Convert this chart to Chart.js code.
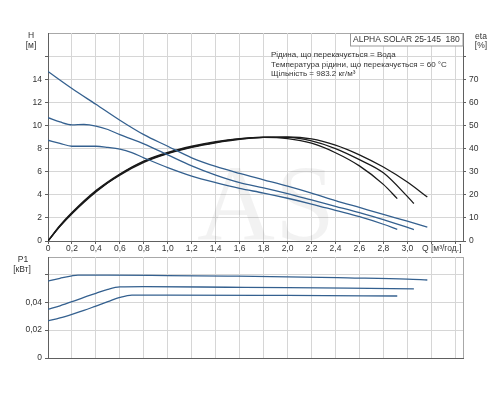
<!DOCTYPE html>
<html><head><meta charset="utf-8">
<script src="https://cdn.jsdelivr.net/npm/chart.js@4"></script>
<style>
html,body{margin:0;padding:0;background:#fff;}
#wrap{position:relative;width:500px;height:400px;background:#fff;}
canvas{position:absolute;left:0;top:0;}
</style></head><body>
<div id="wrap"><canvas id="c1" width="500" height="400"></canvas><canvas id="c2" width="500" height="400"></canvas></div>
<script>
// ---- tick values and labels ----
const xTicks = [0,0.2,0.4,0.6,0.8,1.0,1.2,1.4,1.6,1.8,2.0,2.2,2.4,2.6,2.8,3.0,3.2,3.4];
const xTickLabels = ['0','0,2','0,4','0,6','0,8','1,0','1,2','1,4','1,6','1,8','2,0','2,2','2,4','2,6','2,8','3,0','',''];
const hTicks = [0,2,4,6,8,10,12,14,16];
const hTickLabels = ['0','2','4','6','8','10','12','14',''];
const etaTicks = [0,10,20,30,40,50,60,70,80];
const etaTickLabels = ['0','10','20','30','40','50','60','70',''];
const pTicks = [0,0.02,0.04,0.06];
const pTickLabels = ['0','0,02','0,04',''];

// ---- H curves [м] ----
const qH1 = [0,0.2,0.4,0.6,0.8,1.0,1.2,1.4,1.6,1.8,2.0,2.2,2.4,2.6,2.8,3.0,3.167];
const h1  = [14.67,13.2,11.83,10.45,9.2,8.2,7.2,6.45,5.85,5.3,4.75,4.15,3.5,2.9,2.3,1.72,1.21];
const qH2 = [0,0.1,0.2,0.3,0.4,0.5,0.6,0.8,1.0,1.2,1.4,1.6,1.8,2.0,2.2,2.4,2.6,2.8,3.055];
const h2  = [10.67,10.3,10.05,10.08,9.95,9.65,9.2,8.4,7.45,6.5,5.7,5.05,4.6,4.1,3.55,3.0,2.45,1.85,0.99];
const qH3 = [0,0.1,0.2,0.4,0.5,0.6,0.7,0.8,1.0,1.2,1.4,1.6,1.8,2.0,2.2,2.4,2.6,2.8,2.916];
const h3  = [8.72,8.45,8.2,8.2,8.1,7.95,7.65,7.2,6.35,5.62,5.05,4.55,4.15,3.7,3.2,2.65,2.1,1.45,1.01];

// ---- eta curves [%] ----
const qE1 = [0,0.1,0.2,0.4,0.6,0.8,1.0,1.2,1.4,1.6,1.8,2.0,2.2,2.4,2.6,2.8,3.0,3.167];
const eta1 = [0,6.5,12,21.5,28.5,34,37.8,40.5,42.5,44,44.8,45,44.2,41.5,37.3,32,25.5,19];
const qE2 = [0,0.1,0.2,0.4,0.6,0.8,1.0,1.2,1.4,1.6,1.8,2.0,2.2,2.4,2.6,2.8,3.0,3.055];
const eta2 = [0,6.3,11.8,21.2,28.8,34.4,38,40.7,42.7,44.2,44.9,44.8,43.3,40,35.2,29.5,19.3,16.2];
const qE3 = [0,0.1,0.2,0.4,0.6,0.8,1.0,1.2,1.4,1.6,1.8,2.0,2.2,2.4,2.6,2.8,2.916];
const eta3 = [0,6.7,12.3,21.8,29,34.6,38.3,41,43,44.3,44.8,44.3,42.3,38.2,32.5,24.5,18.35];

// ---- P1 curves [кВт] ----
const qP1 = [0,0.1,0.2,0.25,0.5,1.0,1.5,2.0,2.5,3.0,3.167];
const p1  = [0.0552,0.0572,0.059,0.0595,0.0595,0.0592,0.0588,0.0583,0.0575,0.0566,0.056];
const qP2 = [0,0.1,0.2,0.3,0.4,0.5,0.6,0.8,1.5,2.0,2.5,3.055];
const p2  = [0.035,0.0375,0.0404,0.0435,0.0464,0.0493,0.051,0.0512,0.0508,0.0505,0.0501,0.0496];
const qP3 = [0,0.1,0.2,0.3,0.4,0.5,0.6,0.7,1.0,2.0,2.916];
const p3  = [0.0266,0.0288,0.0314,0.0342,0.0373,0.0404,0.0435,0.0452,0.0452,0.0449,0.0445];

const FONT = '"Liberation Sans", Arial, sans-serif';
const BLUE = '#34608f';
const BLACK = '#1a1a1a';
const GRID = '#d6d6d6';
const AXIS = '#606060';

const pts = (xs, ys) => xs.map((x, i) => ({x: x, y: ys[i]}));
const ds = (xs, ys, color, axis) => ({
  data: pts(xs, ys), borderColor: color, borderWidth: 1.3, pointRadius: 0,
  fill: false, cubicInterpolationMode: 'monotone', yAxisID: axis
});
const setTicks = vals => scale => { scale.ticks = vals.map(v => ({value: v})); };
const fixW = w => scale => { scale.width = w; };
const fixH = h => scale => { scale.height = h; };
const tickFont = {family: FONT, size: 8.5};

const outline = {
  id: 'outline',
  beforeDraw(chart) {
    const a = chart.chartArea, c = chart.ctx;
    c.save(); c.strokeStyle = '#a8a8a8'; c.lineWidth = 1;
    c.strokeRect(Math.round(a.left) + 0.5, Math.round(a.top) + 0.5, Math.round(a.right - a.left), Math.round(a.bottom - a.top));
    c.restore();
  }
};

const upperText = {
  id: 'upperText',
  beforeDatasetsDraw(chart) {
    const c = chart.ctx;
    c.save();
    c.font = '108px "Liberation Serif", serif';
    c.fillStyle = 'rgba(0,0,0,0.05)';
    c.textAlign = 'center'; c.textBaseline = 'alphabetic';
    c.fillText('AS', 266, 240);
    c.restore();
  },
  afterDraw(chart) {
    const c = chart.ctx, a = chart.chartArea;
    c.save();
    c.fillStyle = '#333';
    c.font = '8.5px ' + FONT;
    c.textAlign = 'center'; c.textBaseline = 'middle';
    c.fillText('H', 31, 36);
    c.fillText('[м]', 31, 46);
    c.fillText('eta', 481, 37);
    c.fillText('[%]', 481, 46);
    c.textAlign = 'left';
    c.fillText('Q [м³/год.]', 422, 248.5);
    // title box
    c.fillStyle = '#fff';
    c.fillRect(350.5, a.top + 0.5, a.right - 350.5, 12.5);
    c.strokeStyle = '#999'; c.lineWidth = 1;
    c.strokeRect(350.5, a.top + 0.5, Math.round(a.right) - 350.5, 12.5);
    c.fillStyle = '#333';
    c.font = '8.5px ' + FONT;
    c.fillText('ALPHA SOLAR 25-145  180', 353, 39.5);
    c.font = '8px ' + FONT;
    c.fillText('Рідина, що перекачується = Вода', 271, 55);
    c.fillText('Температура рідини, що перекачується = 60 °C', 271, 64.5);
    c.fillText('Щільність = 983.2 кг/м³', 271, 73.5);
    c.restore();
  }
};

const lowerText = {
  id: 'lowerText',
  afterDraw(chart) {
    const c = chart.ctx;
    c.save();
    c.fillStyle = '#333';
    c.font = '8.5px ' + FONT;
    c.textAlign = 'center'; c.textBaseline = 'middle';
    c.fillText('P1', 23, 260);
    c.fillText('[кВт]', 22, 270);
    c.restore();
  }
};

new Chart(document.getElementById('c1'), {
  type: 'line',
  data: { datasets: [
    ds(qH1, h1, BLUE, 'yH'), ds(qH2, h2, BLUE, 'yH'), ds(qH3, h3, BLUE, 'yH'),
    ds(qE1, eta1, BLACK, 'yEta'), ds(qE2, eta2, BLACK, 'yEta'), ds(qE3, eta3, BLACK, 'yEta')
  ]},
  options: {
    responsive: false, animation: false, devicePixelRatio: 1,
    layout: { padding: { top: 33, bottom: 143, left: 0, right: 0 } },
    plugins: { legend: {display: false}, tooltip: {enabled: false} },
    scales: {
      x: { type: 'linear', min: 0, max: 3.465, afterBuildTicks: setTicks(xTicks), afterFit: fixH(16),
           grid: { color: GRID, tickColor: AXIS, tickLength: 3 },
           border: { color: AXIS },
           ticks: { font: tickFont, color: '#333', padding: 0, maxRotation: 0, autoSkip: false,
                    callback: (v, i) => xTickLabels[i] } },
      yH: { type: 'linear', position: 'left', min: 0, max: 18, afterBuildTicks: setTicks(hTicks), afterFit: fixW(48),
            grid: { color: GRID, tickColor: AXIS, tickLength: 3 },
            border: { color: AXIS },
            ticks: { font: tickFont, color: '#333', padding: 3, autoSkip: false,
                     callback: (v, i) => hTickLabels[i] } },
      yEta: { type: 'linear', position: 'right', min: 0, max: 90, afterBuildTicks: setTicks(etaTicks), afterFit: fixW(37),
              grid: { drawOnChartArea: false, tickColor: AXIS, tickLength: 3 },
              border: { color: AXIS },
              ticks: { font: tickFont, color: '#333', padding: 3, autoSkip: false,
                       callback: (v, i) => etaTickLabels[i] } }
    }
  },
  plugins: [outline, upperText]
});

new Chart(document.getElementById('c2'), {
  type: 'line',
  data: { datasets: [
    ds(qP1, p1, BLUE, 'yP'), ds(qP2, p2, BLUE, 'yP'), ds(qP3, p3, BLUE, 'yP')
  ]},
  options: {
    responsive: false, animation: false, devicePixelRatio: 1,
    layout: { padding: { top: 257, bottom: 42, left: 0, right: 37 } },
    plugins: { legend: {display: false}, tooltip: {enabled: false} },
    scales: {
      x: { type: 'linear', min: 0, max: 3.465, afterBuildTicks: setTicks(xTicks), afterFit: fixH(0),
           grid: { color: GRID, drawTicks: false },
           border: { color: AXIS },
           ticks: { display: false } },
      yP: { type: 'linear', position: 'left', min: 0, max: 0.0725, afterBuildTicks: setTicks(pTicks), afterFit: fixW(48),
            grid: { color: GRID, tickColor: AXIS, tickLength: 3 },
            border: { color: AXIS },
            ticks: { font: tickFont, color: '#333', padding: 3, autoSkip: false,
                     callback: (v, i) => pTickLabels[i] } }
    }
  },
  plugins: [outline, lowerText]
});
</script>
</body></html>
